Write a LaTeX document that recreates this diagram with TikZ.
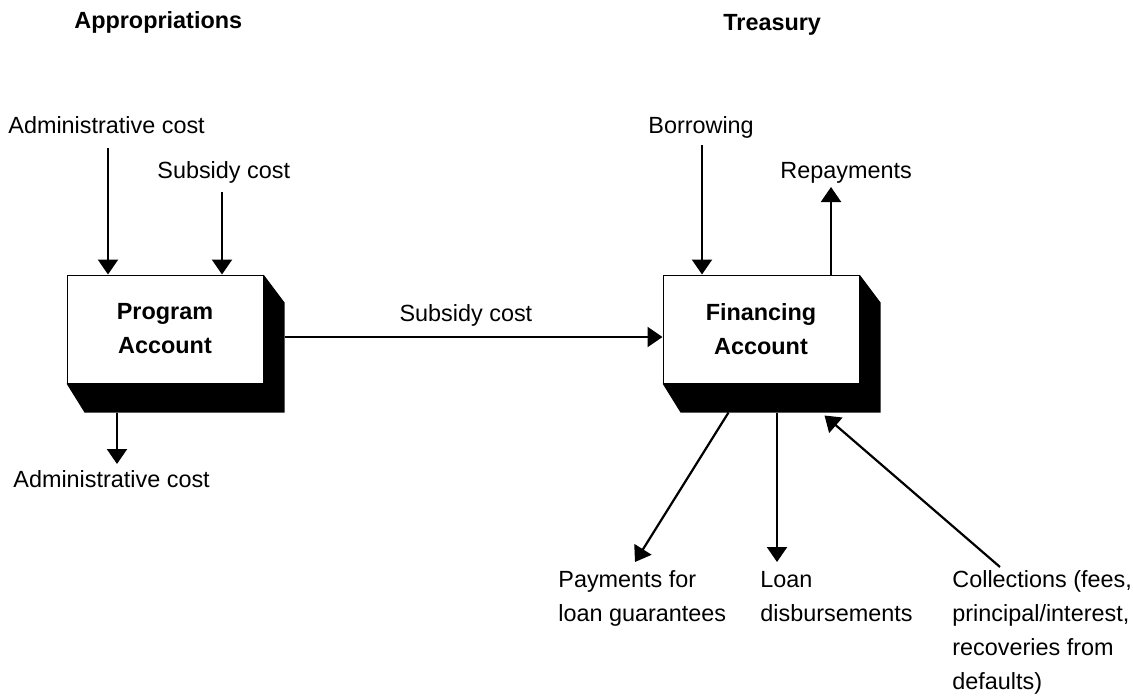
\documentclass[tikz,border=0pt]{standalone}
\usepackage{fontspec}
\setmainfont{Liberation Sans}
\usetikzlibrary{arrows.meta}

\begin{document}
\begin{tikzpicture}[x=0.5pt,y=-0.5pt,
	every node/.style={font=\fontsize{11.7}{17}\selectfont},
	acct/.style={draw,fill=white,line width=0.5pt,minimum width=98pt,minimum height=54pt,inner sep=0pt,align=center,font=\fontsize{11.7}{17}\selectfont\bfseries},
	lbl/.style={anchor=base west,inner sep=0pt,align=left},
	head/.style={lbl,font=\fontsize{11.7}{17}\selectfont\bfseries},
	flow/.style={draw,line width=1.1pt,-{Triangle[width=10pt,length=7.5pt]}}]
	\useasboundingbox (0,0) rectangle (1133,696);
	% the two accounts, with their black extrusion
	\node[acct] (prog) at (165,329) {Program\\Account};
	\node[acct] (fin) at (761,329) {Financing\\Account};
	\foreach \acc in {prog,fin}
		\fill (\acc.north east) -- ++(21,28) -- ([shift={(21,29)}]\acc.south east) -- ([shift={(18,29)}]\acc.south west) -- (\acc.south west) -- (\acc.south east) -- cycle;
	% labels (base of a multi-line label is its last line)
	\node[head] (appr) at (74,28) {Appropriations};
	\node[head] (tres) at (723,30) {Treasury};
	\node[lbl] (admin in) at (8,133) {Administrative cost};
	\node[lbl] (subs in) at (157,178) {Subsidy cost};
	\node[lbl] (admin out) at (13,487) {Administrative cost};
	\node[lbl] (borrow) at (648,133) {Borrowing};
	\node[lbl] (repay) at (780,178) {Repayments};
	\node[lbl] (pay) at (558,621) {Payments for\\loan guarantees};
	\node[lbl] (loan) at (760,621) {Loan\\disbursements};
	\node[lbl] (coll) at (952,689) {Collections (fees,\\principal/interest,\\recoveries from\\defaults)};
	% free ends of the flows
	\coordinate (a1) at (108,148);
	\coordinate (s1) at (222,192);
	\coordinate (a2) at (117,464);
	\coordinate (b1) at (702,145);
	\coordinate (r1) at (831,187);
	\coordinate (p1) at (635,562);
	\coordinate (l1) at (777,562);
	\coordinate (c1) at (1000,567);
	% flows
	\path[flow] (a1) -- (a1 |- prog.north);
	\path[flow] (s1) -- (s1 |- prog.north);
	\path[flow] ([shift={(0,29)}]prog.south -| a2) -- (a2);
	\path[flow] ([shift={(21,8)}]prog.east) -- node[above=1.5pt,pos=0.48] {Subsidy cost} ([shift={(0,8)}]fin.west);
	\path[flow] (b1) -- (b1 |- fin.north);
	\path[flow] (r1 |- fin.north) -- (r1);
	\path[flow] ([shift={(66,29)}]fin.south west) -- (p1);
	\path[flow] ([shift={(0,29)}]fin.south -| l1) -- (l1);
	\path[flow] (c1) -- ([shift={(162,32)}]fin.south west);
\end{tikzpicture}
\end{document}
